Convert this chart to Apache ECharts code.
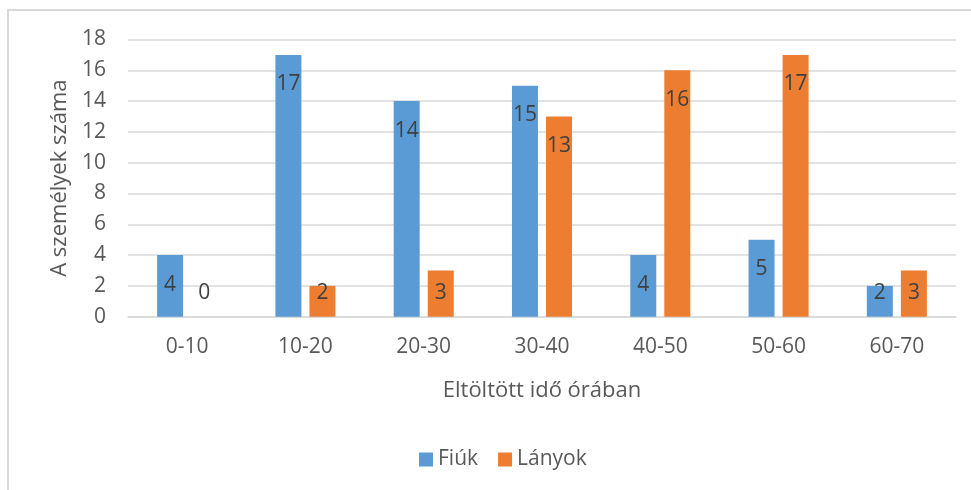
<!DOCTYPE html>
<html>
<head>
<meta charset="utf-8">
<script src="https://cdn.jsdelivr.net/npm/echarts@6/dist/echarts.min.js"></script>
<style>
  html, body { margin: 0; padding: 0; background: #fff; }
  #chart { width: 971px; height: 490px; }
</style>
</head>
<body>
<div id="chart"></div>
<script>
// Hours spent, grouped in 10-hour bands
const categories = ['0-10', '10-20', '20-30', '30-40', '40-50', '50-60', '60-70'];
const boys = [4, 17, 14, 15, 4, 5, 2];    // Fiúk
const girls = [0, 2, 3, 13, 16, 17, 3];   // Lányok
const yTicks = { min: 0, max: 18, interval: 2 };

const FONT = '"Open Sans", "DejaVu Sans", sans-serif';
const TEXT = '#595959';

// Short bars get their value label near the base instead of under the top edge
function withLabels(values) {
  return values.map(v => v < 4
    ? { value: v, label: { position: 'insideBottom', distance: 13 } }
    : v);
}

const barLabel = {
  show: true,
  position: 'insideTop',
  distance: 19,
  color: '#404040',
  fontSize: 21,
  fontFamily: FONT
};

const chart = echarts.init(document.getElementById('chart'), null, { renderer: 'canvas' });
chart.setOption({
  backgroundColor: '#fff',
  animation: false,
  textStyle: { fontFamily: FONT },
  graphic: [{
    type: 'rect',
    shape: { x: 8, y: 10, width: 980, height: 500 },
    style: { fill: 'none', stroke: '#d9d9d9', lineWidth: 2 },
    silent: true
  }],
  grid: { left: 128, right: 15, top: 39.5, bottom: 173.3 },
  legend: {
    bottom: 15,
    left: 414,
    itemWidth: 14,
    itemHeight: 14,
    itemGap: 20,
    icon: 'rect',
    textStyle: { color: TEXT, fontSize: 21, fontFamily: FONT },
    data: ['Fiúk', 'Lányok']
  },
  xAxis: {
    type: 'category',
    data: categories,
    name: 'Eltöltött idő órában',
    nameLocation: 'middle',
    nameGap: 63,
    nameTextStyle: { color: TEXT, fontSize: 22, fontFamily: FONT },
    axisLine: { lineStyle: { color: '#d9d9d9', width: 1.5 } },
    axisTick: { show: false },
    axisLabel: { color: TEXT, fontSize: 21, margin: 20, fontFamily: FONT }
  },
  yAxis: {
    type: 'value',
    min: yTicks.min,
    max: yTicks.max,
    interval: yTicks.interval,
    name: 'A személyek száma',
    nameLocation: 'middle',
    nameGap: 52,
    nameTextStyle: { color: TEXT, fontSize: 22, fontFamily: FONT },
    axisLine: { show: false },
    axisTick: { show: false },
    axisLabel: { color: TEXT, fontSize: 21, margin: 22, fontFamily: FONT },
    splitLine: { lineStyle: { color: '#d9d9d9', width: 1.5 } }
  },
  series: [
    {
      name: 'Fiúk',
      type: 'bar',
      data: withLabels(boys),
      barWidth: 26,
      barGap: '31%',
      itemStyle: { color: '#5B9BD5' },
      label: barLabel
    },
    {
      name: 'Lányok',
      type: 'bar',
      data: withLabels(girls),
      barWidth: 26,
      barGap: '31%',
      itemStyle: { color: '#ED7D31' },
      label: barLabel
    }
  ]
});
</script>
</body>
</html>
